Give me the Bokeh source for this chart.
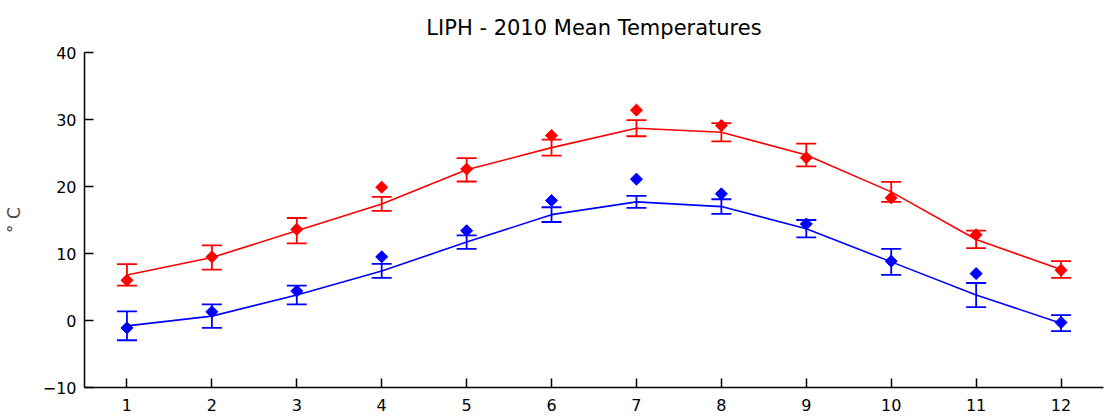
import math
from bokeh.plotting import figure
from bokeh.models import Range1d, FixedTicker, ColumnDataSource, Whisker, TeeHead
from bokeh.embed import file_html
from bokeh.resources import INLINE

months = [1, 2, 3, 4, 5, 6, 7, 8, 9, 10, 11, 12]

# Max temperatures (red): fitted mean, half error, observed 2010
red_mean = [6.8, 9.4, 13.4, 17.4, 22.5, 25.8, 28.7, 28.1, 24.7, 19.2, 12.1, 7.6]
red_err = [1.6, 1.8, 1.9, 1.05, 1.75, 1.2, 1.2, 1.35, 1.7, 1.5, 1.3, 1.25]
red_obs = [6.0, 9.5, 13.6, 19.9, 22.6, 27.6, 31.4, 29.1, 24.3, 18.3, 12.8, 7.5]

# Min temperatures (blue)
blue_mean = [-0.8, 0.65, 3.8, 7.4, 11.7, 15.8, 17.7, 17.0, 13.7, 8.75, 3.8, -0.4]
blue_err = [2.15, 1.75, 1.4, 1.05, 1.0, 1.1, 0.9, 1.1, 1.3, 1.95, 1.8, 1.2]
blue_obs = [-1.1, 1.3, 4.4, 9.5, 13.4, 17.9, 21.1, 18.9, 14.4, 8.85, 7.0, -0.3]

y_ticks = [-10, 0, 10, 20, 30, 40]

p = figure(width=1110, height=416, output_backend="svg", toolbar_location=None,
           x_range=Range1d(0.5, 12.5), y_range=Range1d(-10, 40),
           min_border_left=83, min_border_right=7, min_border_top=51, min_border_bottom=29,
           title="LIPH - 2010 Mean Temperatures")
p.title.align = "center"
p.title.text_font = "DejaVu Sans"
p.title.text_font_size = "21px"
p.title.text_font_style = "normal"
p.title.text_color = "#000000"
p.title.standoff = 26

p.xgrid.visible = False
p.ygrid.visible = False
p.outline_line_color = None
p.background_fill_color = "white"
p.border_fill_color = "white"

p.xaxis.ticker = FixedTicker(ticks=months)
p.yaxis.ticker = FixedTicker(ticks=y_ticks)
for ax in (p.xaxis, p.yaxis):
    ax.axis_line_color = "black"
    ax.axis_line_width = 1.5
    ax.major_tick_line_color = "black"
    ax.major_tick_line_width = 1.5
    ax.major_tick_in = 9
    ax.major_tick_out = 0
    ax.minor_tick_line_color = None
    ax.major_label_text_font = "DejaVu Sans"
    ax.major_label_text_font_size = "16px"
    ax.major_label_text_color = "black"
p.xaxis.major_label_standoff = 11
p.yaxis.major_label_standoff = 8
p.yaxis.axis_label = "° C"
p.yaxis.axis_label_text_font = "DejaVu Sans"
p.yaxis.axis_label_text_font_size = "17px"
p.yaxis.axis_label_text_font_style = "normal"
p.yaxis.axis_label_standoff = 16

for mean, err, obs, color in ((red_mean, red_err, red_obs, "#ff0000"),
                              (blue_mean, blue_err, blue_obs, "#0000ff")):
    lower = [m - e for m, e in zip(mean, err)]
    upper = [m + e for m, e in zip(mean, err)]
    src = ColumnDataSource(dict(x=months, mean=mean, lower=lower, upper=upper, obs=obs))
    p.line("x", "mean", source=src, line_color=color, line_width=1.6)
    w = Whisker(base="x", lower="lower", upper="upper", source=src,
                line_color=color, line_width=1.8,
                upper_head=TeeHead(size=20, line_color=color, line_width=1.8),
                lower_head=TeeHead(size=20, line_color=color, line_width=1.8))
    p.add_layout(w)
    p.scatter("x", "obs", source=src, marker="square", angle=math.pi / 4, size=8.5,
              fill_color=color, line_color=color)

open("out.html", "w").write(file_html(p, INLINE))
